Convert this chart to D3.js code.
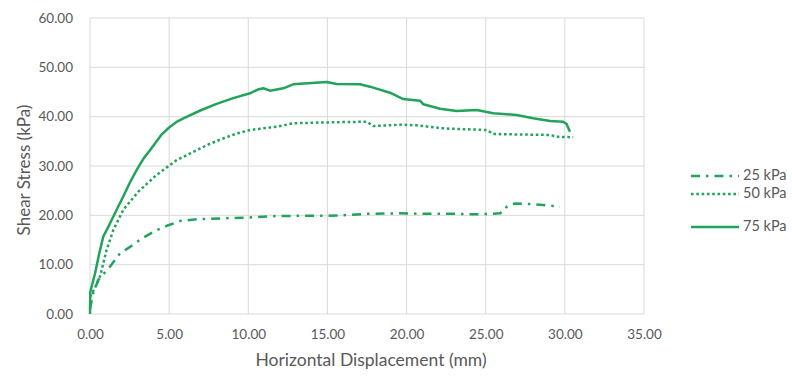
<!DOCTYPE html>
<html>
<head>
<meta charset="utf-8">
<script src="https://cdn.jsdelivr.net/npm/d3@7/dist/d3.min.js"></script>
<style>
  html, body { margin: 0; padding: 0; background: #fff; }
  svg { display: block; font-family: Lato, "Open Sans", sans-serif; }
</style>
</head>
<body>
<svg id="chart" width="792" height="376"></svg>
<script>
// Shear stress vs horizontal displacement for three normal stresses
const seriesNames = ["25 kPa", "50 kPa", "75 kPa"];

// [horizontal displacement (mm), shear stress (kPa)]
const disp25 = [0, 0.2, 0.52, 1.26, 1.9, 2.53, 3.27, 4.21, 4.95, 5.69, 6.74, 8.42, 10.32, 11.9, 13.5, 15.0, 16.5, 17.5, 19.58, 21.5, 23.0, 24.43, 25.9, 26.22, 26.32, 26.85, 27.7, 28.64, 29.69];
const shear25 = [1.0, 4.2, 6.9, 9.6, 12.3, 13.6, 15.3, 17.0, 18.0, 18.85, 19.2, 19.4, 19.6, 19.87, 19.9, 19.9, 20.1, 20.3, 20.4, 20.3, 20.3, 20.2, 20.4, 21.1, 21.75, 22.4, 22.3, 22.1, 21.75];

const disp50 = [0, 0.3, 0.63, 1.05, 1.47, 2.1, 3.05, 4.21, 5.48, 6.74, 7.5, 8.5, 9.3, 10.11, 11.79, 12.84, 14.5, 16.0, 17.48, 17.9, 19.58, 20.64, 22.1, 22.74, 25.06, 25.48, 27.0, 29.06, 29.48, 30.53];
const shear50 = [3.5, 5.2, 7.56, 13.0, 17.0, 21.1, 24.8, 28.2, 31.2, 33.2, 34.4, 35.7, 36.6, 37.3, 37.97, 38.66, 38.8, 38.9, 38.98, 38.1, 38.37, 38.25, 37.7, 37.56, 37.3, 36.49, 36.4, 36.29, 35.94, 35.82];

const disp75 = [0, 0.02, 0.32, 0.6, 0.84, 1.1, 1.47, 1.8, 2.1, 2.5, 2.95, 3.4, 3.79, 4.5, 5.0, 5.5, 6.0, 7.0, 8.0, 9.0, 10.11, 10.6, 10.95, 11.37, 12.21, 12.84, 14.0, 14.95, 15.58, 17.06, 17.69, 18.95, 19.79, 20.85, 21.06, 22.11, 23.16, 24.43, 25.48, 26.95, 28.0, 29.06, 29.9, 30.11, 30.32];
const shear75 = [0, 4.5, 8.25, 12.5, 15.7, 17.3, 19.7, 21.9, 23.8, 26.5, 29.2, 31.6, 33.2, 36.3, 37.8, 39.0, 39.8, 41.3, 42.6, 43.7, 44.74, 45.5, 45.75, 45.27, 45.75, 46.56, 46.8, 47.03, 46.62, 46.56, 46.08, 44.86, 43.58, 43.24, 42.5, 41.62, 41.15, 41.35, 40.69, 40.34, 39.67, 39.12, 38.98, 38.52, 36.96];

const xTicks = [0, 5, 10, 15, 20, 25, 30, 35];
const yTicks = [0, 10, 20, 30, 40, 50, 60];

const green = "#22a35b";
const textColor = "#595959";
const gridColor = "#d9d9d9";

const svg = d3.select("#chart");
const margin = { left: 90, right: 148, top: 18, bottom: 62 };
const W = 792, H = 376;

const x = d3.scaleLinear().domain([0, 35]).range([margin.left, W - margin.right]);
const y = d3.scaleLinear().domain([0, 60]).range([H - margin.bottom, margin.top]);

// Gridlines
const grid = svg.append("g");
grid.selectAll("line.v").data(xTicks).join("line")
  .attr("x1", d => x(d)).attr("x2", d => x(d))
  .attr("y1", y(0)).attr("y2", y(60))
  .attr("stroke", gridColor).attr("stroke-width", 1);
grid.selectAll("line.h").data(yTicks).join("line")
  .attr("x1", x(0)).attr("x2", x(35))
  .attr("y1", d => y(d)).attr("y2", d => y(d))
  .attr("stroke", gridColor).attr("stroke-width", 1);

// Axes (labels only, Excel style)
const xAxis = svg.append("g")
  .attr("transform", `translate(0,${y(0)})`)
  .call(d3.axisBottom(x).tickValues(xTicks).tickFormat(d3.format(".2f")).tickSize(0).tickPadding(15));
const yAxis = svg.append("g")
  .attr("transform", `translate(${x(0)},0)`)
  .call(d3.axisLeft(y).tickValues(yTicks).tickFormat(d3.format(".2f")).tickSize(0).tickPadding(17));
[xAxis, yAxis].forEach(a => {
  a.select(".domain").remove();
  a.selectAll("text").attr("fill", textColor).style("font-size", "13.5px").style("font-family", "Lato, sans-serif");
});

// Axis titles
svg.append("text")
  .attr("x", (x(0) + x(35)) / 2 + 4).attr("y", 362)
  .attr("text-anchor", "middle").attr("dominant-baseline", "middle")
  .attr("fill", textColor).style("font-size", "17.5px")
  .text("Horizontal Displacement (mm)");
svg.append("text")
  .attr("transform", `translate(26,${(y(0) + y(60)) / 2 + 4}) rotate(-90)`)
  .attr("text-anchor", "middle").attr("dominant-baseline", "middle")
  .attr("fill", textColor).style("font-size", "17px")
  .text("Shear Stress (kPa)");

// Series
const series = [
  { name: seriesNames[0], xs: disp25, ys: shear25, dash: "9,6,2.5,6" },
  { name: seriesNames[1], xs: disp50, ys: shear50, dash: "2.6,2.7" },
  { name: seriesNames[2], xs: disp75, ys: shear75, dash: null }
];

const line = d3.line().x(d => x(d[0])).y(d => y(d[1]));

svg.append("g").selectAll("path").data(series).join("path")
  .attr("d", s => line(s.xs.map((v, i) => [v, s.ys[i]])))
  .attr("fill", "none")
  .attr("stroke", green)
  .attr("stroke-width", 2.5)
  .attr("stroke-linejoin", "round")
  .attr("stroke-dasharray", s => s.dash);

// Legend
const legendRows = [176, 194, 227];
const legend = svg.append("g");
series.forEach((s, i) => {
  const g = legend.append("g").attr("transform", `translate(0,${legendRows[i]})`);
  g.append("line")
    .attr("x1", 691).attr("x2", 739).attr("y1", 0).attr("y2", 0)
    .attr("stroke", green).attr("stroke-width", 2.5)
    .attr("stroke-dasharray", s.dash);
  g.append("text")
    .attr("x", 743).attr("y", 0)
    .attr("dominant-baseline", "middle")
    .attr("fill", textColor).style("font-size", "14.5px")
    .text(s.name);
});
</script>
</body>
</html>
